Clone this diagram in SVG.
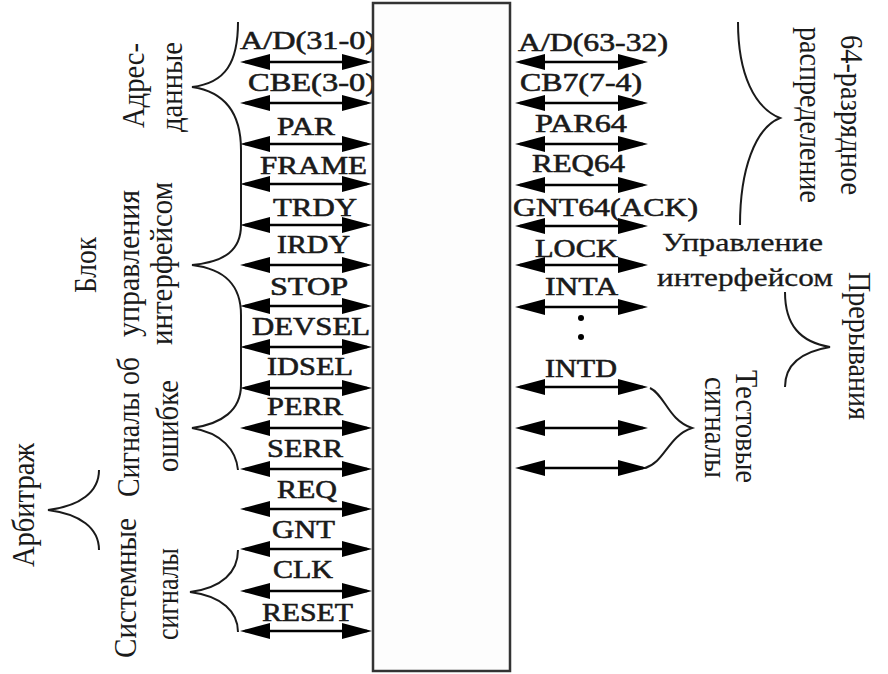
<svg xmlns="http://www.w3.org/2000/svg" width="888" height="674" viewBox="0 0 888 674">
<defs>
<style>
.sig{font-family:"Liberation Serif","Times New Roman",serif;font-size:26px;fill:#1a1a1a;stroke:#1a1a1a;stroke-width:0.6}
.lbl{font-family:"Liberation Serif","Times New Roman",serif;font-size:27px;fill:#1a1a1a}
.hl{font-family:"Liberation Serif","Times New Roman",serif;font-size:25px;fill:#1a1a1a;stroke:#1a1a1a;stroke-width:0.3}
.arr{stroke:#000;stroke-width:2.5;fill:none;marker-start:url(#ah);marker-end:url(#ah)}
.br{stroke:#1a1a1a;stroke-width:2;fill:none}
</style>
<marker id="ah" viewBox="0 0 30 16" refX="25" refY="8" markerWidth="30" markerHeight="16" markerUnits="userSpaceOnUse" orient="auto-start-reverse">
<path d="M0,0 L30,8 L0,16 z" fill="#000"/>
</marker>
</defs>
<rect width="888" height="674" fill="#fff"/>

<g id="left-labels">
<text class="sig" x="240" y="49" textLength="136" lengthAdjust="spacingAndGlyphs">A/D(31-0)</text>
<text class="sig" x="248" y="91" textLength="128" lengthAdjust="spacingAndGlyphs">CBE(3-0)</text>
<text class="sig" x="277" y="135" textLength="58" lengthAdjust="spacingAndGlyphs">PAR</text>
<text class="sig" x="260" y="174" textLength="107" lengthAdjust="spacingAndGlyphs">FRAME</text>
<text class="sig" x="273" y="216" textLength="84" lengthAdjust="spacingAndGlyphs">TRDY</text>
<text class="sig" x="277" y="253" textLength="73" lengthAdjust="spacingAndGlyphs">IRDY</text>
<text class="sig" x="270" y="295" textLength="78" lengthAdjust="spacingAndGlyphs">STOP</text>
<text class="sig" x="252" y="335" textLength="118" lengthAdjust="spacingAndGlyphs">DEVSEL</text>
<text class="sig" x="267" y="375" textLength="86" lengthAdjust="spacingAndGlyphs">IDSEL</text>
<text class="sig" x="267" y="415" textLength="76" lengthAdjust="spacingAndGlyphs">PERR</text>
<text class="sig" x="267" y="457" textLength="76" lengthAdjust="spacingAndGlyphs">SERR</text>
<text class="sig" x="277" y="498" textLength="60" lengthAdjust="spacingAndGlyphs">REQ</text>
<text class="sig" x="272" y="538" textLength="63" lengthAdjust="spacingAndGlyphs">GNT</text>
<text class="sig" x="273" y="578" textLength="60" lengthAdjust="spacingAndGlyphs">CLK</text>
<text class="sig" x="262" y="621" textLength="91" lengthAdjust="spacingAndGlyphs">RESET</text>
</g>

<g id="block">
<rect x="373" y="3" width="137" height="668" fill="#fdfdfd" stroke="#333" stroke-width="2.5"/>
</g>

<g id="right-labels">
<text class="sig" x="518" y="51" textLength="150" lengthAdjust="spacingAndGlyphs">A/D(63-32)</text>
<text class="sig" x="520" y="91" textLength="122" lengthAdjust="spacingAndGlyphs">CB7(7-4)</text>
<text class="sig" x="535" y="132" textLength="92" lengthAdjust="spacingAndGlyphs">PAR64</text>
<text class="sig" x="532" y="172" textLength="93" lengthAdjust="spacingAndGlyphs">REQ64</text>
<text class="sig" x="513" y="216" textLength="185" lengthAdjust="spacingAndGlyphs">GNT64(ACK)</text>
<text class="sig" x="535" y="257" textLength="83" lengthAdjust="spacingAndGlyphs">LOCK</text>
<text class="sig" x="545" y="295" textLength="73" lengthAdjust="spacingAndGlyphs">INTA</text>
<text class="sig" x="545" y="377" textLength="72" lengthAdjust="spacingAndGlyphs">INTD</text>
<circle cx="581" cy="318" r="3" fill="#000"/>
<circle cx="581" cy="337" r="3" fill="#000"/>
</g>

<g id="connectors">
<line class="arr" x1="245" y1="62" x2="367" y2="62"/>
<line class="arr" x1="245" y1="103" x2="367" y2="103"/>
<line class="arr" x1="245" y1="144" x2="367" y2="144"/>
<line class="arr" x1="245" y1="184" x2="367" y2="184"/>
<line class="arr" x1="245" y1="225" x2="367" y2="225"/>
<line class="arr" x1="245" y1="265" x2="367" y2="265"/>
<line class="arr" x1="245" y1="306" x2="367" y2="306"/>
<line class="arr" x1="245" y1="347" x2="367" y2="347"/>
<line class="arr" x1="245" y1="388" x2="367" y2="388"/>
<line class="arr" x1="245" y1="428" x2="367" y2="428"/>
<line class="arr" x1="245" y1="469" x2="367" y2="469"/>
<line class="arr" x1="245" y1="509" x2="367" y2="509"/>
<line class="arr" x1="245" y1="549" x2="367" y2="549"/>
<line class="arr" x1="245" y1="591" x2="367" y2="591"/>
<line class="arr" x1="245" y1="631" x2="367" y2="631"/>
<line class="arr" x1="520" y1="62" x2="643" y2="62"/>
<line class="arr" x1="520" y1="103" x2="643" y2="103"/>
<line class="arr" x1="520" y1="144" x2="643" y2="144"/>
<line class="arr" x1="520" y1="185" x2="643" y2="185"/>
<line class="arr" x1="520" y1="226" x2="643" y2="226"/>
<line class="arr" x1="520" y1="265" x2="643" y2="265"/>
<line class="arr" x1="520" y1="307" x2="643" y2="307"/>
<line class="arr" x1="520" y1="387" x2="643" y2="387"/>
<line class="arr" x1="520" y1="428" x2="643" y2="428"/>
<line class="arr" x1="520" y1="468" x2="643" y2="468"/>
</g>

<g id="braces">
<path class="br" d="M238,22 C238,62 226,83 192,87 C226,92 241,115 241,150 L241,225 C241,250 225,262 192,265 C225,269 241,285 241,315 L241,385 C241,410 222,424 192,428 C222,433 236,450 238,470"/>
<path class="br" d="M99,470 C99,492 80,506 48,510 C80,514 99,528 99,550"/>
<path class="br" d="M238,550 C238,572 222,588 190,592 C222,596 238,612 238,632"/>
<path class="br" d="M738,22 C738,75 755,108 780,118 C755,128 740,170 740,225"/>
<path class="br" d="M785,292 C785,325 800,342 830,347 C800,352 785,365 785,387"/>
<path class="br" d="M650,388 C665,395 668,420 692,428 C668,436 665,462 645,468"/>
</g>

<g id="group-address-data">
<text class="lbl" text-anchor="middle" transform="translate(143.5,85.5) scale(1.2,1) rotate(-90)" textLength="85" lengthAdjust="spacingAndGlyphs">Адрес-</text>
<text class="lbl" text-anchor="middle" transform="translate(182,87) scale(1.2,1) rotate(-90)" textLength="90" lengthAdjust="spacingAndGlyphs">данные</text>
</g>
<g id="group-interface-control">
<text class="lbl" text-anchor="middle" transform="translate(96,265) scale(1.2,1) rotate(-90)" textLength="56" lengthAdjust="spacingAndGlyphs">Блок</text>
<text class="lbl" text-anchor="middle" transform="translate(139,263.5) scale(1.2,1) rotate(-90)" textLength="147" lengthAdjust="spacingAndGlyphs">управления</text>
<text class="lbl" text-anchor="middle" transform="translate(172,263.5) scale(1.2,1) rotate(-90)" textLength="163" lengthAdjust="spacingAndGlyphs">интерфейсом</text>
</g>
<g id="group-error">
<text class="lbl" text-anchor="middle" transform="translate(139,427) scale(1.2,1) rotate(-90)" textLength="140" lengthAdjust="spacingAndGlyphs">Сигналы об</text>
<text class="lbl" text-anchor="middle" transform="translate(178,426) scale(1.2,1) rotate(-90)" textLength="92" lengthAdjust="spacingAndGlyphs">ошибке</text>
</g>
<g id="group-arbitration">
<text class="lbl" text-anchor="middle" transform="translate(34,505) scale(1.2,1) rotate(-90)" textLength="124" lengthAdjust="spacingAndGlyphs">Арбитраж</text>
</g>
<g id="group-system">
<text class="lbl" text-anchor="middle" transform="translate(136,588) scale(1.2,1) rotate(-90)" textLength="140" lengthAdjust="spacingAndGlyphs">Системные</text>
<text class="lbl" text-anchor="middle" transform="translate(178,594) scale(1.2,1) rotate(-90)" textLength="92" lengthAdjust="spacingAndGlyphs">сигналы</text>
</g>
<g id="group-64bit">
<text class="lbl" text-anchor="middle" transform="translate(841,115) scale(1.2,1) rotate(90)" textLength="160" lengthAdjust="spacingAndGlyphs">64-разрядное</text>
<text class="lbl" text-anchor="middle" transform="translate(800,115) scale(1.2,1) rotate(90)" textLength="176" lengthAdjust="spacingAndGlyphs">распределение</text>
</g>
<g id="group-interface-right">
<text class="hl" x="662" y="251" textLength="161" lengthAdjust="spacingAndGlyphs">Управление</text>
<text class="hl" x="657" y="286" textLength="176" lengthAdjust="spacingAndGlyphs">интерфейсом</text>
</g>
<g id="group-interrupts">
<text class="lbl" text-anchor="middle" transform="translate(849,346) scale(1.2,1) rotate(90)" textLength="148" lengthAdjust="spacingAndGlyphs">Прерывания</text>
</g>
<g id="group-test">
<text class="lbl" text-anchor="middle" transform="translate(736,426.5) scale(1.2,1) rotate(90)" textLength="113" lengthAdjust="spacingAndGlyphs">Тестовые</text>
<text class="lbl" text-anchor="middle" transform="translate(705,427.5) scale(1.2,1) rotate(90)" textLength="101" lengthAdjust="spacingAndGlyphs">сигналы</text>
</g>
</svg>
